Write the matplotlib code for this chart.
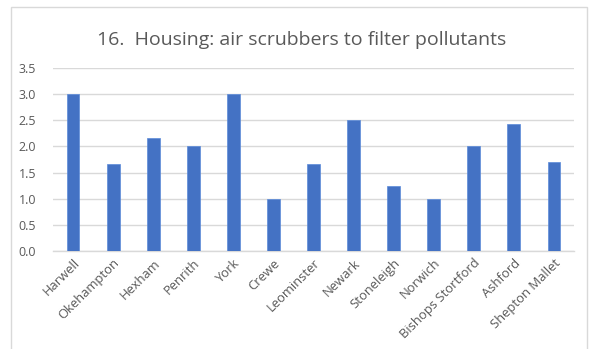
import matplotlib
matplotlib.use("Agg")
import matplotlib.pyplot as plt
from matplotlib.patches import Rectangle

# Scores per location
locations = ["Harwell", "Okehampton", "Hexham", "Penrith", "York", "Crewe",
             "Leominster", "Newark", "Stoneleigh", "Norwich",
             "Bishops Stortford", "Ashford", "Shepton Mallet"]
scores = [3.0, 1.67, 2.17, 2.0, 3.0, 1.0, 1.67, 2.5, 1.25, 1.0, 2.0, 2.43, 1.7]
y_ticks = [0.0, 0.5, 1.0, 1.5, 2.0, 2.5, 3.0, 3.5]
title = "16.  Housing: air scrubbers to filter pollutants"

plt.rcParams['font.family'] = ['Open Sans', 'DejaVu Sans']

W, H = 593, 349
fig = plt.figure(figsize=(W / 100, H / 100), dpi=100)
fig.patch.set_facecolor("white")

# outer chart border (runs past the bottom edge)
fig.patches.append(Rectangle((11 / W, -10 / H), 576 / W, (H - 7 + 10) / H,
                             transform=fig.transFigure, fill=False,
                             edgecolor="#d9d9d9", linewidth=1.0))

ax = fig.add_axes([53 / W, 1 - 251 / H, 521 / W, 183 / H])
x = range(len(locations))
ax.bar(x, scores, width=0.32, color="#4472C4", edgecolor="#5b8bd9",
       linewidth=0.5, zorder=3)

ax.set_xlim(-0.5, len(locations) - 0.5)
ax.set_ylim(0, 3.5)
ax.set_yticks(y_ticks)
ax.set_yticklabels([f"{v:.1f}" for v in y_ticks], color="#595959", fontsize=9)
ax.set_xticks(list(x))
ax.set_xticklabels(locations, rotation=45, ha="right", va="top",
                   rotation_mode="anchor", color="#595959", fontsize=9.4)
ax.tick_params(axis="both", length=0, pad=4)
ax.tick_params(axis="y", pad=12)

ax.grid(axis="y", color="#d9d9d9", linewidth=1.0, zorder=0)
for s in ["top", "right", "left"]:
    ax.spines[s].set_visible(False)
ax.spines["bottom"].set_color("#d9d9d9")
ax.spines["bottom"].set_linewidth(1.0)

fig.text(302 / W, 1 - 40 / H, title, ha="center", va="center",
         fontsize=14.0, color="#595959")

fig.savefig("out.png", dpi=100, facecolor="white")
